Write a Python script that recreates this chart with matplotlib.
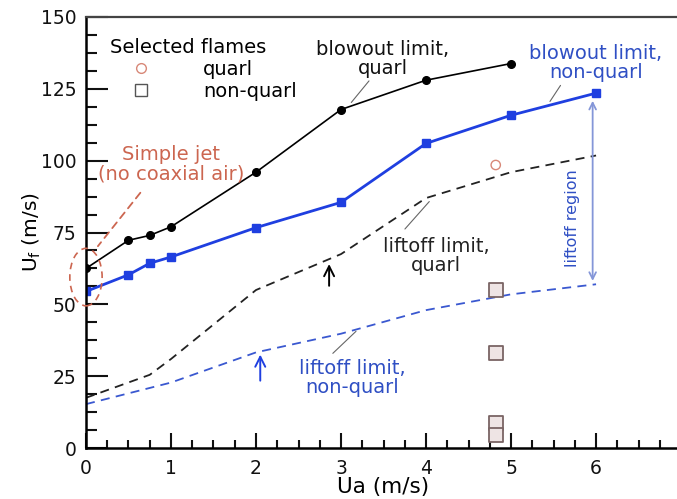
import matplotlib
matplotlib.use("Agg")
import matplotlib.pyplot as plt
from matplotlib.patches import Ellipse
from matplotlib.ticker import MultipleLocator
from matplotlib.lines import Line2D

# ---- data ----
blow_q_x = [0, 0.5, 0.75, 1, 2, 3, 4, 5]
blow_q_y = [62.5, 72.3, 74.0, 77.0, 96.0, 117.8, 128.0, 133.8]

blow_nq_x = [0, 0.5, 0.75, 1, 2, 3, 4, 5, 6]
blow_nq_y = [54.5, 60.3, 64.3, 66.5, 76.7, 85.5, 106.0, 115.8, 123.5]

lift_q_x = [0, 0.75, 1, 2, 3, 4, 5, 6]
lift_q_y = [17.5, 25.5, 31.0, 55.0, 67.5, 87.0, 96.0, 101.8]

lift_nq_x = [0, 1, 2, 3, 4, 5, 6]
lift_nq_y = [15.3, 22.8, 33.3, 39.8, 48.0, 53.5, 57.0]

sel_q_x = [4.82]
sel_q_y = [98.5]
sel_nq_x = [4.82, 4.82, 4.82, 4.82]
sel_nq_y = [55.0, 33.0, 8.8, 4.5]

xticks = [0, 1, 2, 3, 4, 5, 6, 7]
yticks = [0, 25, 50, 75, 100, 125, 150]

BLUE = "#1f3fe0"
LBLUE = "#3a58d0"
TBLUE = "#2f4fc4"
RED = "#cc6650"
FS = 14

fig = plt.figure(figsize=(6.77, 4.99), dpi=100)
ax = fig.add_axes([0.127, 0.102, 0.879, 0.864])

ax.plot(lift_q_x, lift_q_y, color="#222222", lw=1.3, ls=(0, (5, 3.5)))
ax.plot(lift_nq_x, lift_nq_y, color=LBLUE, lw=1.3, ls=(0, (5, 3.5)))
ax.plot(blow_q_x, blow_q_y, color="black", lw=1.2, marker="o", ms=5.5)
ax.plot(blow_nq_x, blow_nq_y, color=BLUE, lw=2.0, marker="s", ms=6)

hq = ax.scatter(sel_q_x, sel_q_y, s=45, marker="o", facecolors="none",
                edgecolors="#d88878", linewidths=1.0, zorder=5)
hnq = ax.scatter(sel_nq_x, sel_nq_y, s=110, marker="s", facecolors="#eee4e4",
                 edgecolors="#7a6464", linewidths=1.3, zorder=5)

ax.set_xlim(0, 7)
ax.set_ylim(0, 150)
ax.set_xticks(xticks)
ax.set_yticks(yticks)
ax.xaxis.set_minor_locator(MultipleLocator(0.25))
ax.yaxis.set_minor_locator(MultipleLocator(6.25))
ax.tick_params(axis="both", which="both", direction="in", width=1.5,
               labelsize=13.5, colors="#111111")
ax.tick_params(axis="y", which="major", length=16, pad=7)
ax.tick_params(axis="y", which="minor", length=8)
ax.tick_params(axis="x", which="major", length=11, pad=8)
ax.tick_params(axis="x", which="minor", length=5.5)
ax.tick_params(top=False, right=False, which="both")
for s in ["left", "bottom"]:
    ax.spines[s].set_linewidth(1.8)
ax.spines["top"].set_linewidth(1.6)
ax.spines["top"].set_color("#444444")
ax.spines["right"].set_visible(False)

ax.set_xlabel("Ua (m/s)", fontsize=15.5, labelpad=-1)
ax.set_ylabel(r"U$_\mathregular{f}$ (m/s)", fontsize=14.5)
ax.yaxis.set_label_coords(-0.072, 0.5)

# legend
leg = ax.legend([Line2D([], [], ls="none", marker="o", mfc="none", mec="#d88878", ms=7),
                 Line2D([], [], ls="none", marker="s", mfc="none", mec="#555555", ms=9)],
                ["quarl", "non-quarl"], title="Selected flames", frameon=False,
                loc="upper left", bbox_to_anchor=(0.02, 0.978), fontsize=FS,
                title_fontsize=FS, handlelength=3.2, handletextpad=1.6,
                labelspacing=0.15, borderaxespad=0.2, alignment="left")

# annotations
ax.text(3.49, 135.5, "blowout limit,\nquarl", ha="center", va="center",
        fontsize=FS, color="#111111", linespacing=1.0)
ax.annotate("", xy=(3.1, 119.5), xytext=(3.35, 128.5),
            arrowprops=dict(arrowstyle="-", color="#666666", lw=0.8))

ax.text(6.0, 134, "blowout limit,\nnon-quarl", ha="center", va="center",
        fontsize=FS, color=TBLUE, linespacing=1.0)
ax.annotate("", xy=(5.44, 119.8), xytext=(5.6, 127),
            arrowprops=dict(arrowstyle="-", color="#666666", lw=0.8))

ax.text(4.12, 67, "liftoff limit,\nquarl", ha="center", va="center",
        fontsize=FS, color="#222222", linespacing=1.0)
ax.annotate("", xy=(4.06, 86.5), xytext=(3.73, 75.5),
            arrowprops=dict(arrowstyle="-", color="#666666", lw=0.8))

ax.text(3.13, 24.3, "liftoff limit,\nnon-quarl", ha="center", va="center",
        fontsize=FS, color=TBLUE, linespacing=1.0)
ax.annotate("", xy=(3.2, 41.3), xytext=(2.88, 32.3),
            arrowprops=dict(arrowstyle="-", color="#666666", lw=0.8))

ax.annotate("", xy=(2.86, 65.0), xytext=(2.86, 55.5),
            arrowprops=dict(arrowstyle="->", color="black", lw=1.4,
                            mutation_scale=18))
ax.annotate("", xy=(2.05, 33.5), xytext=(2.05, 22.5),
            arrowprops=dict(arrowstyle="->", color=BLUE, lw=1.4,
                            mutation_scale=18))

ax.annotate("", xy=(5.96, 121.8), xytext=(5.96, 57.2),
            arrowprops=dict(arrowstyle="<->", color="#8496d8", lw=1.3,
                            mutation_scale=12))
ax.text(5.72, 80, "liftoff region", rotation=90, ha="center", va="center",
        fontsize=11.5, color=TBLUE)

ax.text(1.0, 98.7, "Simple jet\n(no coaxial air)", ha="center", va="center",
        fontsize=FS, color=RED, linespacing=1.0)
ax.annotate("", xy=(0.12, 69.5), xytext=(0.66, 89.6),
            arrowprops=dict(arrowstyle="-", color=RED, lw=1.3,
                            linestyle=(0, (4, 3))))
ax.add_patch(Ellipse((0, 59.5), 0.38, 20, fill=False, edgecolor=RED, lw=1.2,
                     ls=(0, (4, 3)), clip_on=False, zorder=6))

fig.savefig("out.png", dpi=100)
